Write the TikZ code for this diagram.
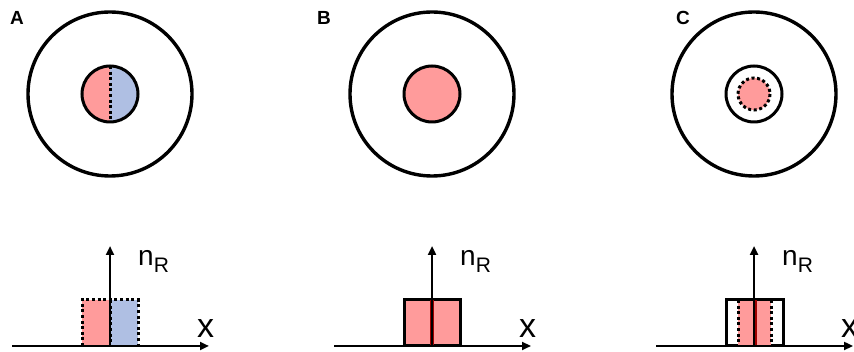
\documentclass[tikz,border=0pt]{standalone}
\usepackage{fontspec}
\setmainfont{Liberation Sans}
\usetikzlibrary{arrows.meta}
\definecolor{pinkfill}{HTML}{FF9B9B}
\definecolor{bluefill}{HTML}{AFBFE3}
\definecolor{darkred}{HTML}{A00000}
\tikzset{ring/.style={draw=black,line width=3.4pt},
  core/.style={draw=black,line width=3pt},
  axis/.style={-{Triangle[length=9pt,width=8pt]},line width=2.4pt},
  dotline/.style={line width=3pt,dash pattern=on 3pt off 2.6pt},
  tag/.style={font=\bfseries\fontsize{19}{19}\selectfont,anchor=base west,inner sep=0pt},
  axlabel/.style={font=\fontsize{28}{28}\selectfont,anchor=base west,inner sep=0pt}}
\begin{document}
\begin{tikzpicture}[x=1pt,y=-1pt]
\useasboundingbox (0,0) rectangle (854,352);
% common parts of the three panels
\foreach \p/\cx/\tx in {A/110/10,B/432/317,C/754/676}{
  \node[tag] (tag\p) at (\tx,25) {\p};
  \draw[ring] (\cx,94) circle (82);
  \coordinate (axL\p) at (\cx-98,346);
  \coordinate (axR\p) at (\cx+99,346);
  \coordinate (axO\p) at (\cx,346);
  \coordinate (axT\p) at (\cx,246);
}
% panel A
\fill[pinkfill] (110,66) arc[start angle=270,end angle=90,radius=28] -- cycle;
\fill[bluefill] (110,66) arc[start angle=270,end angle=450,radius=28] -- cycle;
\draw[core] (110,94) circle (28);
\draw[dotline] (110,66) -- (110,122);
\fill[pinkfill] (82,300) rectangle (110,346);
\fill[bluefill] (110,300) rectangle (138,346);
\draw[dotline] (82,346) -- (82,300) -- (138,300) -- (138,346);
\draw[dotline] (110,300) -- (110,346);
% panel B
\draw[core,fill=pinkfill] (432,94) circle (28);
\draw[core,fill=pinkfill] (404,346) rectangle (460,300);
\draw[darkred,line width=3.4pt] (432,300) -- (432,346);
% panel C
\draw[core] (754,94) circle (28);
\fill[pinkfill] (754,94) circle (16);
\draw[dotline] (754,94) circle (16);
\draw[core,fill=white] (726,346) rectangle (783,300);
\fill[pinkfill] (738,301) rectangle (771,346);
\draw[dotline] (738,300) -- (738,346);
\draw[dotline] (771,300) -- (771,346);
\draw[darkred,line width=3.4pt] (755,300) -- (755,346);
% axes
\foreach \p/\cx in {A/110,B/432,C/754}{
  \draw[axis] (axL\p) -- (axR\p);
  \draw[axis] (axO\p) -- (axT\p);
  \node[axlabel] (nR\p) at (\cx+28,266) {n\raisebox{-7pt}{\fontsize{21}{21}\selectfont R}};
  \node[axlabel,font=\fontsize{34}{34}\selectfont] (xl\p) at (\cx+87,338) {x};
}
\end{tikzpicture}
\end{document}
